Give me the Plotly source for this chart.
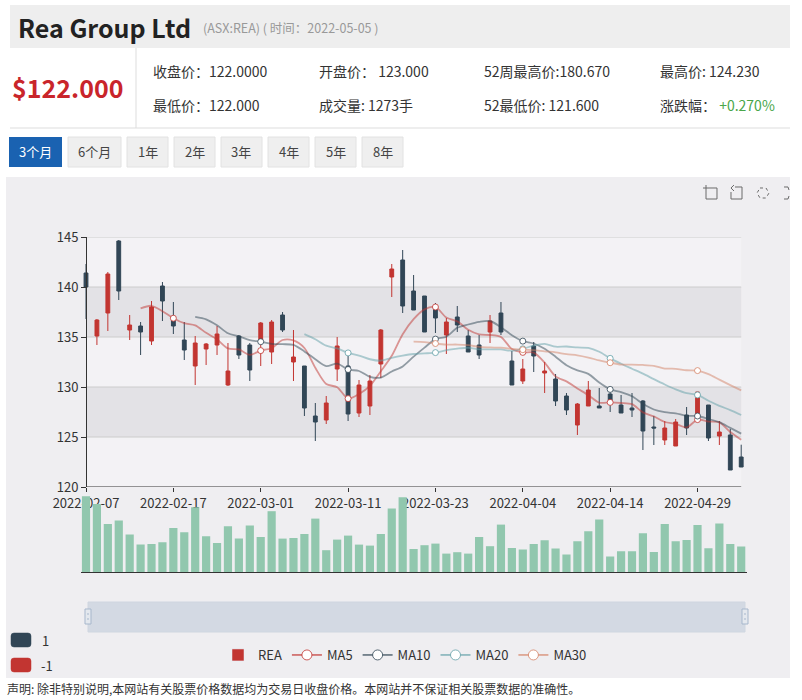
import plotly.graph_objects as go

W, H = 802, 700


def px(x):
    return x / W


def py(y):
    return 1 - y / H


FONT = "Noto Sans CJK SC, Noto Sans, sans-serif"

# ---------------- data ----------------
dates = [
    "2022-02-07", "2022-02-08", "2022-02-09", "2022-02-10", "2022-02-11", "2022-02-14", "2022-02-15",
    "2022-02-16", "2022-02-17", "2022-02-18", "2022-02-21", "2022-02-22", "2022-02-23", "2022-02-24",
    "2022-02-25", "2022-02-28", "2022-03-01", "2022-03-02", "2022-03-03", "2022-03-04", "2022-03-07",
    "2022-03-08", "2022-03-09", "2022-03-10", "2022-03-11", "2022-03-14", "2022-03-15", "2022-03-16",
    "2022-03-17", "2022-03-18", "2022-03-21", "2022-03-22", "2022-03-23", "2022-03-24", "2022-03-25",
    "2022-03-28", "2022-03-29", "2022-03-30", "2022-03-31", "2022-04-01", "2022-04-04", "2022-04-05",
    "2022-04-06", "2022-04-07", "2022-04-08", "2022-04-11", "2022-04-12", "2022-04-13", "2022-04-14",
    "2022-04-19", "2022-04-20", "2022-04-21", "2022-04-22", "2022-04-26", "2022-04-27", "2022-04-28",
    "2022-04-29", "2022-05-02", "2022-05-03", "2022-05-04", "2022-05-05",
]
opens = [141.4, 135.1, 137.4, 144.6, 135.7, 136.1, 134.6, 140.1, 137.0, 134.7,
         132.1, 133.8, 134.2, 130.2, 135.1, 134.2, 134.6, 133.5, 137.2, 132.5,
         132.1, 127.1, 126.7, 131.8, 132.1, 127.4, 128.1, 132.3, 141.0, 142.7,
         139.6, 139.1, 137.9, 135.2, 137.0, 135.1, 134.2, 135.5, 137.4, 132.6,
         130.6, 134.1, 131.4, 130.8, 129.1, 126.2, 128.1, 128.1, 129.3, 128.2,
         127.9, 128.6, 126.0, 124.7, 124.1, 127.2, 126.6, 128.2, 125.1, 125.2, 123.0]
closes = [140.0, 136.7, 141.3, 139.6, 136.2, 135.5, 138.0, 138.6, 136.1, 133.7,
          134.4, 134.3, 135.3, 131.6, 133.2, 131.7, 136.4, 136.5, 135.7, 133.0,
          127.9, 126.5, 128.4, 134.1, 127.3, 130.2, 130.6, 135.7, 141.8, 138.1,
          137.7, 135.5, 136.9, 136.5, 136.2, 133.5, 133.2, 136.6, 135.5, 130.2,
          131.8, 133.1, 131.6, 128.6, 127.7, 128.3, 129.7, 127.9, 128.7, 127.4,
          127.7, 125.6, 125.9, 125.9, 126.5, 125.9, 129.5, 124.9, 125.5, 121.7, 122.0]
highs = [142.3, 136.8, 141.5, 144.7, 137.2, 136.5, 138.6, 140.5, 138.5, 136.5,
         135.1, 134.4, 136.1, 134.4, 135.2, 134.4, 136.5, 136.7, 137.5, 135.7,
         132.1, 128.4, 129.1, 135.0, 133.1, 130.7, 131.2, 135.8, 142.3, 143.7,
         141.2, 139.1, 138.4, 136.9, 138.1, 135.7, 135.2, 137.2, 138.5, 133.6,
         132.8, 134.5, 132.5, 131.3, 129.4, 128.4, 130.6, 129.9, 129.8, 129.2,
         129.4, 128.7, 127.1, 126.6, 126.8, 128.0, 129.5, 128.2, 126.6, 125.8, 124.23]
lows = [136.8, 134.2, 135.6, 138.7, 134.7, 133.2, 134.2, 136.6, 135.3, 132.7,
        130.2, 132.2, 133.2, 130.1, 132.8, 130.6, 132.1, 132.3, 135.5, 130.6,
        127.1, 124.6, 126.3, 130.6, 126.6, 127.0, 127.2, 130.9, 139.0, 137.4,
        137.7, 135.5, 135.4, 133.3, 135.5, 133.5, 132.8, 134.4, 135.2, 130.2,
        130.3, 131.5, 129.4, 128.1, 127.2, 125.2, 128.1, 127.9, 127.5, 127.4,
        127.0, 123.7, 124.2, 124.2, 124.1, 125.2, 126.5, 124.6, 124.2, 121.7, 122.0]
volumes = [3790, 3400, 2400, 2570, 1870, 1370, 1400, 1490, 2200, 1990,
           3240, 1790, 1450, 2290, 1670, 2320, 1750, 3040, 1670, 1700,
           1900, 2670, 1090, 1620, 1820, 1370, 1320, 1900, 3170, 3740,
           1150, 1340, 1420, 920, 990, 920, 1750, 1290, 2370, 1200,
           1120, 1400, 1590, 1170, 870, 1540, 2040, 2620, 770, 1040,
           1040, 1940, 1000, 2400, 1540, 1600, 2350, 1190, 2420, 1400, 1273]

ma_days = [5, 10, 20, 30]
ma_names = ["MA5", "MA10", "MA20", "MA30"]
ma_colors = ["rgba(194,53,49,0.5)", "rgba(47,69,84,0.5)", "rgba(97,160,168,0.5)", "rgba(212,130,101,0.5)"]
ma_edge = ["rgba(194,53,49,0.8)", "rgba(47,69,84,0.8)", "rgba(97,160,168,0.8)", "rgba(212,130,101,0.8)"]

tick_dates = dates[::8]
price_ticks = [120, 125, 130, 135, 140, 145]

UP = "#c23531"
DOWN = "#314656"
VOL = "#91c7ae"


def moving_average(values, days):
    out = []
    for i in range(len(values)):
        if i < days:
            out.append(None)
        else:
            out.append(round(sum(values[i - j] for j in range(days)) / days, 3))
    return out


# ---------------- figure ----------------
fig = go.Figure()

fig.add_trace(go.Candlestick(
    x=dates, open=opens, high=highs, low=lows, close=closes,
    increasing=dict(line=dict(color=UP, width=1), fillcolor=UP),
    decreasing=dict(line=dict(color=DOWN, width=1), fillcolor=DOWN),
    whiskerwidth=0, showlegend=False, hoverinfo="skip", xaxis="x", yaxis="y",
))

for d, name, col, edge in zip(ma_days, ma_names, ma_colors, ma_edge):
    ma = moving_average(closes, d)
    fig.add_trace(go.Scatter(
        x=dates, y=ma, mode="lines", line=dict(color=col, width=1.8, shape="spline", smoothing=0.8),
        showlegend=False, hoverinfo="skip", xaxis="x", yaxis="y",
    ))
    mx = [dates[i] for i in range(0, len(dates), 8) if ma[i] is not None]
    my = [ma[i] for i in range(0, len(dates), 8) if ma[i] is not None]
    fig.add_trace(go.Scatter(
        x=mx, y=my, mode="markers",
        marker=dict(symbol="circle", size=6, color="white", line=dict(color=edge, width=1)),
        showlegend=False, hoverinfo="skip", xaxis="x", yaxis="y",
    ))

fig.add_trace(go.Bar(
    x=dates, y=volumes, marker=dict(color=VOL, line=dict(width=0)),
    showlegend=False, hoverinfo="skip", xaxis="x2", yaxis="y2",
))

# legend proxies
fig.add_trace(go.Bar(x=[None], y=[None], name="REA", marker=dict(color=UP), xaxis="x2", yaxis="y2"))
for name, col, edge in zip(ma_names, ma_colors, ma_edge):
    fig.add_trace(go.Scatter(
        x=[None], y=[None], name=name, mode="lines+markers",
        line=dict(color=edge, width=1.5),
        marker=dict(symbol="circle", size=10, color="white", line=dict(color=edge, width=1)),
        xaxis="x2", yaxis="y2",
    ))

# ---------------- shapes ----------------
shapes = []


def prect(x0, y0, x1, y1, fill, line_color=None, lw=0, layer="below"):
    shapes.append(dict(type="rect", xref="paper", yref="paper",
                       x0=px(x0), x1=px(x1), y0=py(y1), y1=py(y0),
                       fillcolor=fill, line=dict(color=line_color or fill, width=lw), layer=layer))


def pline(x0, y0, x1, y1, color, lw=1, dash="solid"):
    shapes.append(dict(type="line", xref="paper", yref="paper",
                       x0=px(x0), x1=px(x1), y0=py(y0), y1=py(y1),
                       line=dict(color=color, width=lw, dash=dash), layer="above"))


def ppath(points, color, lw=1, closed=False, dash="solid", fill=None, layer="above"):
    d = "M" + " L".join(f"{px(x):.5f},{py(y):.5f}" for x, y in points)
    if closed:
        d += " Z"
    s = dict(type="path", xref="paper", yref="paper", path=d,
             line=dict(color=color, width=lw, dash=dash), layer=layer)
    if fill:
        s["fillcolor"] = fill
    shapes.append(s)


def P(x, y):
    return f"{px(x):.5f},{py(y):.5f}"


def round_rect(x0, y0, x1, y1, r, fill):
    d = (f"M{P(x0 + r, y0)} L{P(x1 - r, y0)} Q{P(x1, y0)} {P(x1, y0 + r)} "
         f"L{P(x1, y1 - r)} Q{P(x1, y1)} {P(x1 - r, y1)} L{P(x0 + r, y1)} "
         f"Q{P(x0, y1)} {P(x0, y1 - r)} L{P(x0, y0 + r)} Q{P(x0, y0)} {P(x0 + r, y0)} Z")
    shapes.append(dict(type="path", xref="paper", yref="paper", path=d, fillcolor=fill,
                       line=dict(color=fill, width=0.5), layer="above"))


# header
prect(10, 5, 790, 48, "#eeeeee")
pline(10, 128, 790, 128, "#dddddd")
pline(136, 48, 136, 128, "#dddddd")

# period buttons
buttons = [("3个月", 9, 62), ("6个月", 68, 121), ("1年", 127, 168), ("2年", 174, 215),
           ("3年", 221, 262), ("4年", 268, 309), ("5年", 315, 356), ("8年", 362, 403)]
for k, (lab, x0, x1) in enumerate(buttons):
    if k == 0:
        prect(x0, 137, x1, 167, "#1a62b1")
    else:
        prect(x0, 137, x1, 167, "#efefef", "#e2e2e2", 1)

# chart container
prect(6, 177, 790, 678, "#efeef1")

# split areas / grid in data coords
band_colors = ["#f3f2f5", "#e3e2e6"]
for k in range(5):
    lo = price_ticks[k]
    hi = price_ticks[k + 1]
    shapes.append(dict(type="rect", xref="x", yref="y", x0=0, x1=len(dates) - 1, y0=lo, y1=hi,
                       fillcolor=band_colors[k % 2], line=dict(width=0), layer="below"))
for t in price_ticks[1:]:
    shapes.append(dict(type="line", xref="x", yref="y", x0=0, x1=len(dates) - 1, y0=t, y1=t,
                       line=dict(color="#cccccc", width=1), layer="below"))
shapes.append(dict(type="line", xref="x", yref="y", x0=0, x1=len(dates) - 1, y0=120, y1=120,
                   line=dict(color="#333333", width=1), layer="above"))

# data zoom slider
prect(88, 602, 745, 632, "#d3d9e3", "#cfd6e0", 1)
for hx in (88, 745):
    prect(hx - 3, 609, hx + 3, 624, "#e4e8ee", "#a7b7cc", 1, layer="above")
    pline(hx - 1, 614, hx + 1, 614, "#a7b7cc")
    pline(hx - 1, 619, hx + 1, 619, "#a7b7cc")

# visual map pieces
round_rect(11, 633, 31, 647, 3, DOWN)
round_rect(11, 658, 31, 672, 3, UP)

# toolbox icons
ic = "#6b6b6b"
ppath([(709, 188), (717, 188), (717, 199), (706, 199), (706, 191)], ic)
pline(703, 188, 709, 188, ic)
pline(706, 185, 706, 191, ic)
ppath([(735, 187), (742, 187), (742, 199), (731, 199), (731, 192)], ic)
ppath([(734, 185), (731, 188), (734, 191)], ic)
ppath([(760, 188), (766, 188), (769, 193), (766, 198), (760, 198), (757, 193)], ic, closed=True, dash="dot")
ppath([(784, 187), (788, 187), (789, 190)], ic)
ppath([(789, 196), (788, 199), (784, 199)], ic)

# ---------------- annotations ----------------
ann = []


def text(x, y, s, size=14, color="#333333", anchor="left", bold=False):
    if bold:
        s = "<b>" + s + "</b>"
    ann.append(dict(xref="paper", yref="paper", x=px(x), y=py(y), text=s, showarrow=False,
                    xanchor=anchor, yanchor="middle", font=dict(family=FONT, size=size, color=color)))


text(16, 27, "Rea Group Ltd", size=25, color="#222222", bold=True)
text(201, 27, "(ASX:REA) ( 时间：2022-05-05 )", size=12.5, color="#999999")
text(10, 87, "$122.000", size=25, color="#c9252b", bold=True)
text(151, 71, "收盘价：122.0000")
text(317, 71, "开盘价： 123.000")
text(482, 71, "52周最高价:180.670")
text(658, 71, "最高价: 124.230")
text(151, 105, "最低价：122.000")
text(317, 105, "成交量: 1273手")
text(482, 105, "52最低价: 121.600")
text(658, 105, "涨跌幅： <span style='color:#4aa64a'>+0.270%</span>")
for k, (lab, x0, x1) in enumerate(buttons):
    text((x0 + x1) / 2, 152, lab, size=13, color="white" if k == 0 else "#444444", anchor="center")
text(40, 640, "1", size=13)
text(39, 665, "-1", size=13)
text(5, 688, "声明: 除非特别说明,本网站有关股票价格数据均为交易日收盘价格。本网站并不保证相关股票数据的准确性。",
     size=12, color="#333333")

# ---------------- layout ----------------
x_left = 86 - 0.5 * 10.92
x_right = 86 + 60.5 * 10.92
axis_font = dict(family=FONT, size=13, color="#333333")

fig.update_layout(
    width=W, height=H, autosize=False,
    margin=dict(l=0, r=0, t=0, b=0, pad=0, autoexpand=False),
    paper_bgcolor="white", plot_bgcolor="rgba(0,0,0,0)",
    shapes=shapes, annotations=ann,
    bargap=0.25, boxgap=0.5,
    showlegend=True,
    legend=dict(orientation="h", x=0.505, xanchor="center", y=py(655), yanchor="middle",
                bgcolor="rgba(0,0,0,0)", font=dict(family=FONT, size=13, color="#333333"),
                itemwidth=30, traceorder="normal"),
    xaxis=dict(domain=[px(x_left), px(x_right)], anchor="y", type="category",
               categoryorder="array", categoryarray=dates, range=[-0.5, 60.5],
               tickmode="array", tickvals=tick_dates, ticktext=tick_dates,
               ticks="outside", ticklen=4, tickcolor="#333333", showline=False, showgrid=False,
               zeroline=False, tickfont=axis_font, rangeslider=dict(visible=False), fixedrange=True,
               automargin=False),
    yaxis=dict(domain=[py(487), py(237)], range=[120, 145], anchor="free", position=px(86),
               tickmode="array", tickvals=price_ticks, ticks="outside", ticklen=5, tickcolor="#333333",
               showline=True, linecolor="#333333", linewidth=1, showgrid=False, zeroline=False,
               tickfont=axis_font, fixedrange=True, automargin=False),
    xaxis2=dict(domain=[px(x_left), px(x_right)], anchor="y2", type="category",
                categoryorder="array", categoryarray=dates, range=[-0.5, 60.5],
                showticklabels=False, ticks="", showline=True, linecolor="#333333", showgrid=False,
                zeroline=False, fixedrange=True, automargin=False),
    yaxis2=dict(domain=[py(572), py(496)], range=[0, 3800], visible=False, fixedrange=True),
)

fig.write_html("out.html", config={"displayModeBar": False})
